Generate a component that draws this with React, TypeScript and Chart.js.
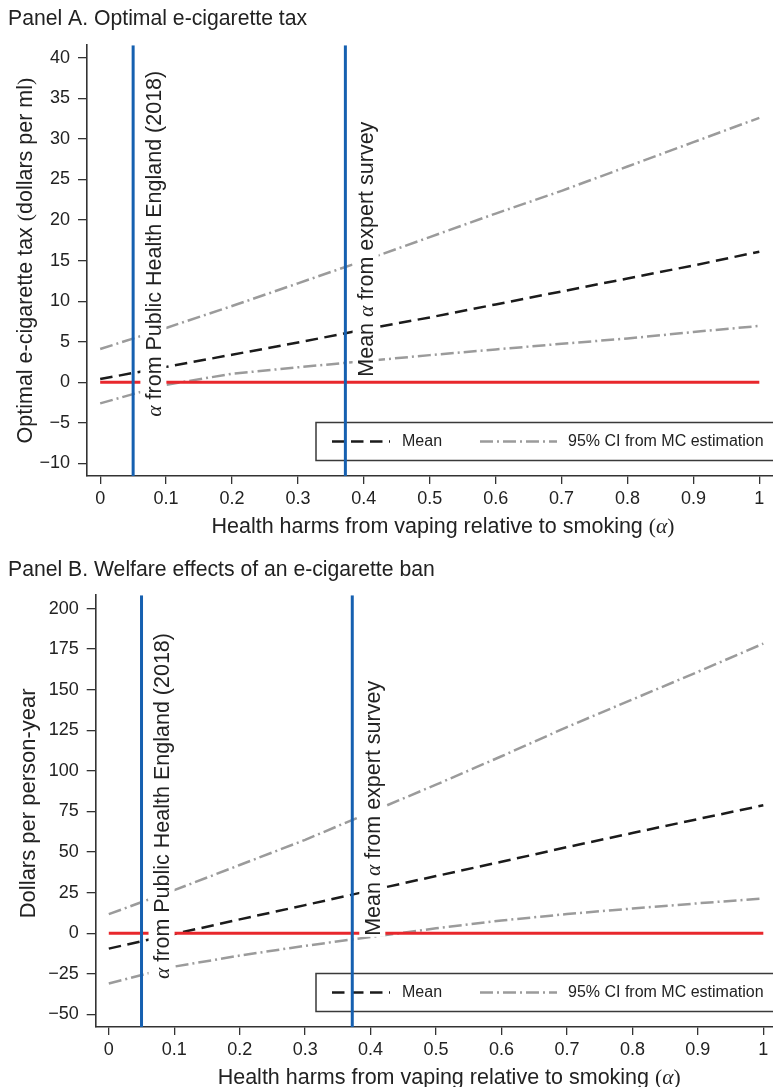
import React, { useEffect, useRef } from "react";
import { Chart, registerables } from "chart.js";

Chart.register(...registerables);

// Health harms from vaping relative to smoking (alpha)
const ALPHA = [0, 0.1, 0.2, 0.3, 0.4, 0.5, 0.6, 0.7, 0.8, 0.9, 1];
const X_TICKS = [0, 0.1, 0.2, 0.3, 0.4, 0.5, 0.6, 0.7, 0.8, 0.9, 1];

// Panel A: optimal e-cigarette tax, dollars per ml
const TAX_MEAN = [0.4, 1.9, 3.4, 4.9, 6.5, 8.0, 9.6, 11.2, 12.8, 14.4, 16.1];
const TAX_CI_HIGH = [4.1, 6.7, 9.4, 12.2, 15.0, 17.9, 20.8, 23.6, 26.6, 29.6, 32.6];
const TAX_CI_LOW = [-2.6, -0.3, 1.05, 1.85, 2.6, 3.35, 4.05, 4.75, 5.4, 6.2, 6.95];
const TAX_TICKS = [-10, -5, 0, 5, 10, 15, 20, 25, 30, 35, 40];

// Panel B: welfare effects of a ban, dollars per person-year
const BAN_MEAN = [-9.5, -0.5, 8.5, 17.3, 26.3, 35.2, 44.0, 53.0, 61.7, 70.3, 78.8];
const BAN_CI_HIGH = [11.7, 26.5, 42.0, 57.5, 74.5, 91.5, 109, 127, 144, 161, 178.4];
const BAN_CI_LOW = [-31, -20.6, -13.8, -7.8, -2.3, 3, 7.8, 11.8, 15.2, 18.4, 21.4];
const BAN_TICKS = [-50, -25, 0, 25, 50, 75, 100, 125, 150, 175, 200];

// Reference values of alpha marked by vertical lines
const ALPHA_PHE = 0.05;
const ALPHA_EXPERT = 0.372;

const SANS = '"Liberation Sans", Arial, Helvetica, sans-serif';
const SERIF = '"Liberation Serif", "Times New Roman", serif';

const BLACK = "#1b1b1b";
const GRAY = "#9b9b9b";
const RED = "#e8272c";
const BLUE = "#1660b0";
const AXIS = "#333333";
const TEXT = "#222222";

type Part = { text: string; font: string };

const sans = (size: number) => `${size}px ${SANS}`;
const serif = (size: number) => `${size}px ${SERIF}`;
const serifItalic = (size: number) => `italic ${size}px ${SERIF}`;

interface PanelSpec {
  title: string;
  yTitle: Part[];
  mean: number[];
  hi: number[];
  lo: number[];
  yTicks: number[];
  yMin: number;
  yMax: number;
  yTitleValue: number;
  yTitleX: number;
  labelStart: number[];
  canvasWidth: number;
  canvasHeight: number;
  top: number;
  yAxisWidth: number;
  padRight: number;
  titlePadBottom: number;
}

const LABEL_SIZE = 21.5;
const LABEL_X = [0.092, 0.414];
const LABEL_TEXTS: Part[][] = [
  [
    { text: "\u03b1", font: serifItalic(LABEL_SIZE) },
    { text: " from Public Health England (2018)", font: sans(LABEL_SIZE) },
  ],
  [
    { text: "Mean ", font: sans(LABEL_SIZE) },
    { text: "\u03b1", font: serifItalic(LABEL_SIZE) },
    { text: " from expert survey", font: sans(LABEL_SIZE) },
  ],
];

const X_TITLE: Part[] = [
  { text: "Health harms from vaping relative to smoking ", font: sans(21.5) },
  { text: "(", font: serif(21.5) },
  { text: "\u03b1", font: serifItalic(21.5) },
  { text: ")", font: serif(21.5) },
];

const LEGEND_LEFT = 316;

const PANEL_A: PanelSpec = {
  title: "Panel A. Optimal e-cigarette tax",
  yTitle: [
    { text: "Optimal e-cigarette tax ", font: sans(21.5) },
    { text: "(", font: serif(21.5) },
    { text: "dollars per ml", font: sans(21.5) },
    { text: ")", font: serif(21.5) },
  ],
  mean: TAX_MEAN,
  hi: TAX_CI_HIGH,
  lo: TAX_CI_LOW,
  yTicks: TAX_TICKS,
  yMin: -11.55,
  yMax: 41.55,
  yTitleValue: 15,
  yTitleX: 31.5,
  labelStart: [-4.24, 0.69],
  canvasWidth: 773,
  canvasHeight: 545,
  top: 0,
  yAxisWidth: 79,
  padRight: 0.5,
  titlePadBottom: 13.8,
};

const PANEL_B: PanelSpec = {
  title: "Panel B. Welfare effects of an e-cigarette ban",
  yTitle: [{ text: "Dollars per person-year", font: sans(22) }],
  mean: BAN_MEAN,
  hi: BAN_CI_HIGH,
  lo: BAN_CI_LOW,
  yTicks: BAN_TICKS,
  yMin: -57.8,
  yMax: 208.2,
  yTitleValue: 80,
  yTitleX: 35,
  labelStart: [-28.2, -1.65],
  canvasWidth: 790,
  canvasHeight: 545,
  top: 551,
  yAxisWidth: 87.7,
  padRight: 13.6,
  titlePadBottom: 12.8,
};

function partsWidth(ctx: CanvasRenderingContext2D, parts: Part[]) {
  let w = 0;
  for (const p of parts) {
    ctx.font = p.font;
    w += ctx.measureText(p.text).width;
  }
  return w;
}

function drawParts(ctx: CanvasRenderingContext2D, parts: Part[], x: number, y: number) {
  let cx = x;
  for (const p of parts) {
    ctx.font = p.font;
    ctx.fillText(p.text, cx, y);
    cx += ctx.measureText(p.text).width;
  }
}

const zip = (xs: number[], ys: number[]) => xs.map((x, i) => ({ x, y: ys[i] }));

const fmtY = (v: number) => (v < 0 ? "\u2212" + String(Math.abs(v)) : String(v));
const fmtX = (v: number) => String(Number(v.toFixed(1)));

function buildConfig(spec: PanelSpec): any {
  const ciStyle = {
    borderColor: GRAY,
    borderWidth: 2.5,
    borderDash: [13, 4, 2, 4],
    pointRadius: 0,
    fill: false,
    tension: 0,
    order: 4,
  };
  const vline = (x: number) => ({
    label: "",
    data: [
      { x, y: spec.yMin },
      { x, y: spec.yMax },
    ],
    borderColor: BLUE,
    borderWidth: 3,
    pointRadius: 0,
    fill: false,
    order: 1,
  });

  const overlay = {
    id: "panelOverlay",
    beforeDatasetsDraw(chart: any) {
      // legend box beneath the reference lines
      const { ctx, chartArea } = chart;
      const top = chartArea.bottom - 53.5;
      const h = 38;
      const cy = top + h / 2;
      ctx.save();
      ctx.fillStyle = "#ffffff";
      ctx.fillRect(LEGEND_LEFT, top, chart.width + 20 - LEGEND_LEFT, h);
      ctx.strokeStyle = "#3a3a3a";
      ctx.lineWidth = 1.5;
      ctx.strokeRect(LEGEND_LEFT, top, chart.width + 20 - LEGEND_LEFT, h);

      ctx.lineWidth = 2.5;
      ctx.strokeStyle = BLACK;
      ctx.setLineDash([12.5, 6.5]);
      ctx.beginPath();
      ctx.moveTo(LEGEND_LEFT + 16, cy);
      ctx.lineTo(LEGEND_LEFT + 74, cy);
      ctx.stroke();

      ctx.strokeStyle = GRAY;
      ctx.setLineDash([13, 4, 2, 4]);
      ctx.beginPath();
      ctx.moveTo(LEGEND_LEFT + 164, cy);
      ctx.lineTo(LEGEND_LEFT + 241, cy);
      ctx.stroke();
      ctx.setLineDash([]);

      ctx.fillStyle = TEXT;
      ctx.font = sans(16);
      ctx.textBaseline = "middle";
      ctx.textAlign = "left";
      ctx.fillText("Mean", LEGEND_LEFT + 86, cy);
      ctx.fillText("95% CI from MC estimation", LEGEND_LEFT + 252, cy);
      ctx.restore();
    },
    afterDatasetsDraw(chart: any) {
      // rotated annotations on white boxes
      const { ctx } = chart;
      const xs = chart.scales.x;
      const ys = chart.scales.y;
      ctx.save();
      LABEL_TEXTS.forEach((parts, i) => {
        const bx = xs.getPixelForValue(LABEL_X[i]);
        const by = ys.getPixelForValue(spec.labelStart[i]);
        const w = partsWidth(ctx, parts);
        const asc = 0.905 * LABEL_SIZE;
        const desc = 0.212 * LABEL_SIZE;
        ctx.save();
        ctx.translate(bx, by);
        ctx.rotate(-Math.PI / 2);
        ctx.fillStyle = "#ffffff";
        ctx.fillRect(-1, -asc - 1, w + 2, asc + desc + 2);
        ctx.fillStyle = TEXT;
        ctx.textBaseline = "alphabetic";
        ctx.textAlign = "left";
        drawParts(ctx, parts, 0, 0);
        ctx.restore();
      });
      ctx.restore();
    },
    afterDraw(chart: any) {
      const { ctx, chartArea } = chart;
      const xs = chart.scales.x;
      const ys = chart.scales.y;
      ctx.save();
      ctx.fillStyle = TEXT;
      ctx.textBaseline = "alphabetic";
      ctx.textAlign = "left";
      // x-axis title
      const xw = partsWidth(ctx, X_TITLE);
      const xc = xs.getPixelForValue(0.52);
      drawParts(ctx, X_TITLE, xc - xw / 2, chartArea.bottom + 57.3);
      // y-axis title
      const yw = partsWidth(ctx, spec.yTitle);
      const yc = ys.getPixelForValue(spec.yTitleValue);
      ctx.translate(spec.yTitleX, yc);
      ctx.rotate(-Math.PI / 2);
      drawParts(ctx, spec.yTitle, -yw / 2, 0);
      ctx.restore();
    },
  };

  return {
    type: "line",
    data: {
      datasets: [
        { label: "95% CI from MC estimation", data: zip(ALPHA, spec.hi), ...ciStyle },
        { label: "", data: zip(ALPHA, spec.lo), ...ciStyle },
        {
          label: "Mean",
          data: zip(ALPHA, spec.mean),
          borderColor: BLACK,
          borderWidth: 2.5,
          borderDash: [12.5, 6.5],
          pointRadius: 0,
          fill: false,
          tension: 0,
          order: 3,
        },
        {
          label: "",
          data: [
            { x: 0, y: 0 },
            { x: 1, y: 0 },
          ],
          borderColor: RED,
          borderWidth: 3,
          pointRadius: 0,
          fill: false,
          order: 2,
        },
        vline(ALPHA_PHE),
        vline(ALPHA_EXPERT),
      ],
    },
    options: {
      responsive: false,
      animation: false,
      devicePixelRatio: 1,
      events: [],
      layout: { padding: { left: 8, right: spec.padRight, top: 0, bottom: 0 } },
      plugins: {
        legend: { display: false },
        tooltip: { enabled: false },
        title: {
          display: true,
          text: spec.title,
          align: "start",
          color: TEXT,
          font: { family: SANS, size: 21.2, weight: "normal" },
          padding: { top: 6, bottom: spec.titlePadBottom },
        },
      },
      scales: {
        x: {
          type: "linear",
          min: -0.02,
          max: 1.02,
          afterBuildTicks: (s: any) => {
            s.ticks = X_TICKS.map((v) => ({ value: v }));
          },
          afterFit: (s: any) => {
            s.height = 69;
          },
          ticks: {
            callback: (v: number) => fmtX(v),
            color: TEXT,
            font: { family: SANS, size: 18 },
            padding: 4,
            maxRotation: 0,
            autoSkip: false,
          },
          grid: { drawOnChartArea: false, drawTicks: true, tickLength: 8, color: AXIS, lineWidth: 1.3 },
          border: { display: true, color: AXIS, width: 1.6 },
        },
        y: {
          type: "linear",
          min: spec.yMin,
          max: spec.yMax,
          afterBuildTicks: (s: any) => {
            s.ticks = spec.yTicks.map((v) => ({ value: v }));
          },
          afterFit: (s: any) => {
            s.width = spec.yAxisWidth;
          },
          ticks: {
            callback: (v: number) => fmtY(v),
            color: TEXT,
            font: { family: SANS, size: 18 },
            padding: 8,
            autoSkip: false,
          },
          grid: { drawOnChartArea: false, drawTicks: true, tickLength: 9, color: AXIS, lineWidth: 1.3 },
          border: { display: true, color: AXIS, width: 1.6 },
        },
      },
    },
    plugins: [overlay],
  };
}

function Panel({ spec }: { spec: PanelSpec }) {
  const ref = useRef<HTMLCanvasElement>(null);
  useEffect(() => {
    if (!ref.current) return;
    const chart = new Chart(ref.current, buildConfig(spec));
    return () => chart.destroy();
  }, [spec]);
  return (
    <canvas
      ref={ref}
      width={spec.canvasWidth}
      height={spec.canvasHeight}
      style={{
        position: "absolute",
        left: 0,
        top: spec.top,
        width: spec.canvasWidth,
        height: spec.canvasHeight,
        display: "block",
      }}
    />
  );
}

export default function App() {
  return (
    <div
      style={{
        position: "absolute",
        left: 0,
        top: 0,
        width: 773,
        height: 1087,
        overflow: "hidden",
        background: "#ffffff",
      }}
    >
      <Panel spec={PANEL_A} />
      <Panel spec={PANEL_B} />
    </div>
  );
}
